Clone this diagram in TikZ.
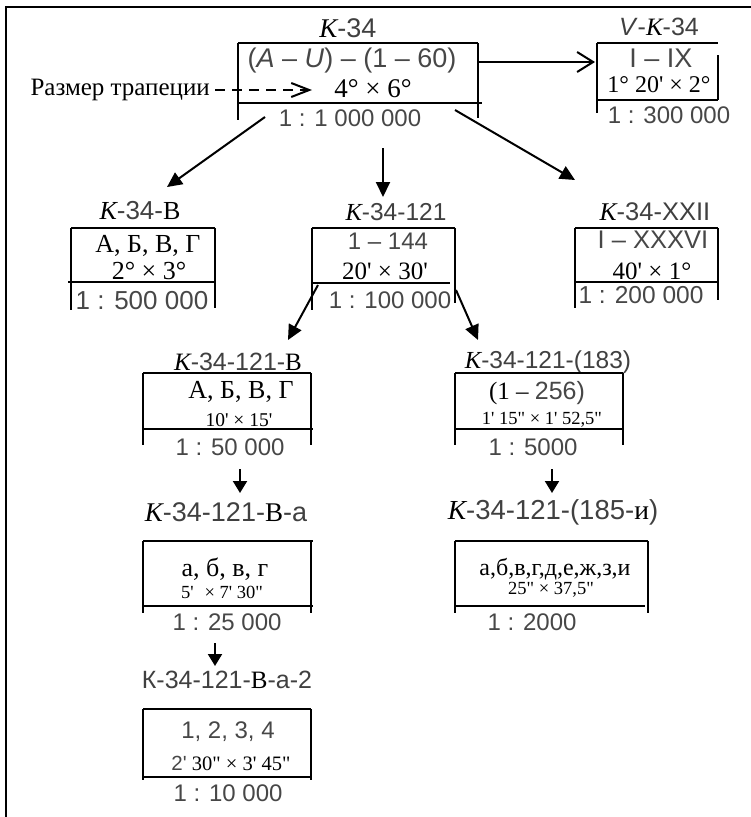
\documentclass[tikz,border=0pt]{standalone}
\usepackage{fontspec}
\setmainfont{Liberation Serif}[Ligatures=TeXOff]
\newfontfamily\sansf{Liberation Sans}[Ligatures=TeXOff]
\usetikzlibrary{arrows.meta}
\newcommand\KI{{\rmfamily\itshape\color{black}K}}
\newcommand\Sr[1]{{\rmfamily\color{black}#1}}
\newcommand\fs[1]{\fontsize{#1}{#1}\selectfont}
\tikzset{
 ttl/.style={font=\sansf\fs{25}, text=black!75, inner sep=0pt},
 scl/.style={font=\sansf\fs{24}, text=black!72, inner sep=0pt},
 big/.style={font=\sansf\fs{27}, text=black!72, inner sep=0pt},
 ser/.style={font=\fs{25}, inner sep=0pt},
 sersm/.style={font=\fs{18.5}, inner sep=0pt},
 bl/.style={line width=1.8pt},
 arr/.style={line width=2pt, -{Triangle[length=15pt,width=14pt]}},
 sarr/.style={line width=2pt, -{Triangle[length=12pt,width=14pt]}},
 oarr/.style={line width=2pt, -{Straight Barb[length=16pt,width=20pt]}},
 darr/.style={line width=2pt, dash pattern=on 10pt off 7pt, -{Straight Barb[length=18pt,width=14pt]}},
}
\begin{document}
\begin{tikzpicture}[x=1pt,y=-1pt]
\useasboundingbox (0,0) rectangle (751,817);
% frame
\draw[line width=2.4pt] (6,820) -- (6,7) -- (755,7);

% ---- box K-34
\node[ttl, font=\sansf\fs{27}] (t1) at (348,28) {\KI-34};
\draw[bl] (238,43) -- (478,43);
\draw[bl] (238,43) -- (238,120);
\draw[bl] (478,43) -- (478,118);
\draw[bl] (238,103) -- (482,103);
\node[big, font=\sansf\fs{27}] (a1) at (352,61) {(\textit{A} – \textit{U}) – (1 – 60)};
\node[ser, font=\fs{27}] (d1) at (373,89) {4° × 6°};
\node[scl] (s1) at (350,118) {1 : 1 000 000};
\node[font=\fs{25}, inner sep=0pt, anchor=east] (lab) at (210,90) {Размер трапеции};
\coordinate (dstart) at (215,90);
\coordinate (dend) at (312,90);
\draw[darr] (dstart) -- (dend);

% ---- box V-K-34
\node[ttl] (tv) at (659,27) {\textit{V}-\KI-34};
\draw[bl] (597,43) -- (718,43);
\draw[bl] (597,43) -- (597,113);
\draw[bl] (718,55) -- (718,100);
\draw[bl] (597,100) -- (718,100);
\node[big] (av) at (661,58) {I – IX};
\node[ser, font=\fs{24}] (dv) at (659,85) {1° 20' × 2°};
\node[scl] (sv) at (669,115) {1 : 300 000};
\coordinate (hstart) at (478,62);
\coordinate (hend) at (595,62);
\draw[oarr] (hstart) -- (hend);

% arrows from K-34
\coordinate (c1a) at (265,117);
\coordinate (c1b) at (167,187);
\coordinate (c2a) at (383,148);
\coordinate (c2b) at (383,197);
\coordinate (c3a) at (455,110);
\coordinate (c3b) at (575,180);
\draw[arr] (c1a) -- (c1b);
\draw[arr] (c2a) -- (c2b);
\draw[arr] (c3a) -- (c3b);

% ---- box K-34-B
\node[ttl, font=\sansf\fs{26}] (t2l) at (140,211) {\KI-34-\Sr{В}};
\draw[bl] (71,228) -- (215,228);
\draw[bl] (71,228) -- (71,310);
\draw[bl] (215,228) -- (215,308);
\draw[bl] (68,282) -- (215,282);
\node[ser, font=\fs{26}] (a2l) at (148,246) {А, Б, В, Г};
\node[ser, font=\fs{26}] (d2l) at (149,271) {2° × 3°};
\node[scl, font=\sansf\fs{26}] (s2l) at (142,301) {1 : 500 000};

% ---- box K-34-121
\node[ttl, font=\sansf\fs{24.5}] (t2m) at (396,212) {\KI-34-121};
\draw[bl] (312,228) -- (455,228);
\draw[bl] (312,228) -- (312,310);
\draw[bl] (455,228) -- (455,303);
\draw[bl] (312,283) -- (450,283);
\node[scl] (a2m) at (388,241) {1 – 144};
\node[ser] (d2m) at (385,271) {20' × 30'};
\node[scl] (s2m) at (390,300) {1 : 100 000};

% ---- box K-34-XXII
\node[ttl, font=\sansf\fs{25.5}] (t2r) at (655,212) {\KI-34-XXII};
\draw[bl] (575,228) -- (718,228);
\draw[bl] (575,228) -- (575,308);
\draw[bl] (718,228) -- (718,300);
\draw[bl] (575,282) -- (718,282);
\node[big, font=\sansf\fs{25.5}] (a2r) at (653,240) {I – XXXVI};
\node[ser] (d2r) at (652,271) {40' × 1°};
\node[scl, font=\sansf\fs{24.5}] (s2r) at (641,295) {1 : 200 000};

% arrows from K-34-121
\coordinate (e1a) at (318,285);
\coordinate (e1b) at (288,340);
\coordinate (e2a) at (456,290);
\coordinate (e2b) at (478,340);
\draw[arr] (e1a) -- (e1b);
\draw[arr] (e2a) -- (e2b);

% ---- box K-34-121-B
\node[ttl] (t3l) at (238,362) {\KI-34-121-\Sr{В}};
\draw[bl] (143,373) -- (311,373);
\draw[bl] (143,373) -- (143,445);
\draw[bl] (311,373) -- (311,445);
\draw[bl] (143,429) -- (313,429);
\node[ser, font=\fs{26}] (a3l) at (241,392) {А, Б, В, Г};
\node[sersm, font=\fs{19.5}] (d3l) at (239,420) {10' × 15'};
\node[scl] (s3l) at (230,447) {1 : 50 000};
\coordinate (f1a) at (240,469);
\coordinate (f1b) at (240,493);
\draw[sarr] (f1a) -- (f1b);

% ---- box K-34-121-(183)
\node[ttl, font=\sansf\fs{24.5}] (t3r) at (548,362) {\KI-34-121-(183)};
\draw[bl] (455,373) -- (623,373);
\draw[bl] (455,373) -- (455,445);
\draw[bl] (623,373) -- (623,445);
\draw[bl] (455,429) -- (623,429);
\node[ser] (a3r) at (537,393) {(1 – {\sansf\color{black!72}256)}};
\node[sersm] (d3r) at (542,420) {1' 15" × 1' 52,5"};
\node[scl] (s3r) at (533,447) {1 : 5000};
\coordinate (f2a) at (552,469);
\coordinate (f2b) at (552,493);
\draw[sarr] (f2a) -- (f2b);

% ---- box K-34-121-B-a
\node[ttl, font=\sansf\fs{27}] (t4l) at (226,512) {\KI-34-121-\Sr{В}-а};
\draw[bl] (143,541) -- (313,541);
\draw[bl] (143,541) -- (143,613);
\draw[bl] (311,541) -- (311,613);
\draw[bl] (143,606) -- (313,606);
\node[ser, font=\fs{26}] (a4l) at (225,569) {а, б, в, г};
\node[sersm] (d4l) at (222,592) {5'\,\, × 7' 30"};
\node[scl] (s4l) at (227,622) {1 : 25 000};
\coordinate (f3a) at (215,643);
\coordinate (f3b) at (215,666);
\draw[sarr] (f3a) -- (f3b);

% ---- box K-34-121-B-a-2
\node[ttl] (t5l) at (227,680) {К-34-121-\Sr{В}-а-2};
\draw[bl] (143,709) -- (311,709);
\draw[bl] (143,709) -- (143,780);
\draw[bl] (311,709) -- (311,780);
\draw[bl] (143,777) -- (311,777);
\node[scl] (a5l) at (228,732) {1, 2, 3, 4};
\node[ser, font=\fs{20.5}] (d5l) at (231,763) {{\sansf\color{black!72}2'} 30" × 3' 45"};
\node[scl] (s5l) at (228,793) {1 : 10 000};

% ---- box K-34-121-(185-i)
\node[ttl, font=\sansf\fs{27.5}] (t4r) at (553,512) {\KI-34-121-(185-\Sr{и})};
\draw[bl] (455,541) -- (648,541);
\draw[bl] (455,541) -- (455,613);
\draw[bl] (648,541) -- (648,613);
\draw[bl] (455,606) -- (645,606);
\node[ser, font=\fs{24}] (a4r) at (555,569) {а,б,в,г,д,е,ж,з,и};
\node[sersm] (d4r) at (551,590) {25" × 37,5"};
\node[scl] (s4r) at (532,622) {1 : 2000};
\end{tikzpicture}
\end{document}
